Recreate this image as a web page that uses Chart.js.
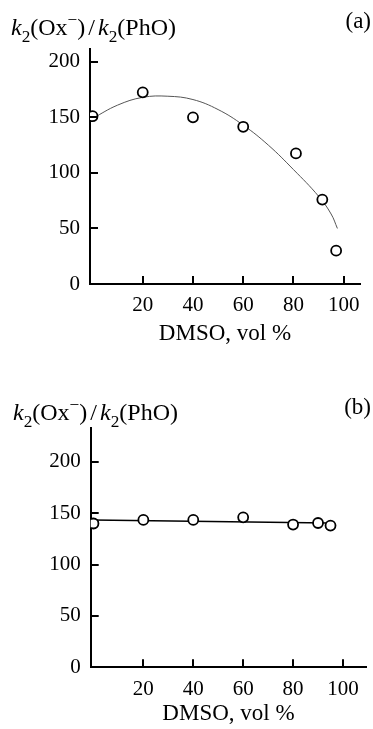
<!DOCTYPE html>
<html>
<head>
<meta charset="utf-8">
<script src="https://cdn.jsdelivr.net/npm/chart.js@4.4.1/dist/chart.umd.min.js"></script>
<style>
    html, body { margin: 0; padding: 0; background: #fff; }
    #wrap { position: relative; width: 373px; height: 729px; }
    canvas { position: absolute; left: 0; }
</style>
</head>
<body>
<div id="wrap">
    <canvas id="chartA" width="373" height="350" style="top:0px"></canvas>
    <canvas id="chartB" width="373" height="369" style="top:360px"></canvas>
</div>
<script>
// Panel (a): measured points and the drawn fit curve
const dmsoA = [0, 20, 40, 60, 81, 91.5, 97];
const ratioA = [151, 172.5, 150, 141.5, 117.5, 76, 30];
const fitDmsoA = [0, 10, 20, 30, 40, 50, 60, 70, 80, 90, 95, 97.5];
const fitRatioA = [149, 161, 168, 169, 166, 157, 143, 125, 103, 79, 63, 50];

// Panel (b)
const dmsoB = [0, 20, 40, 60, 80, 90, 95];
const ratioB = [140, 143.5, 143.5, 146, 139, 140.5, 138];
const fitDmsoB = [0, 94];
const fitRatioB = [143.5, 140.5];

// Axis ticks (both panels)
const xTicks = [20, 40, 60, 80, 100];
const yTicks = [0, 50, 100, 150, 200];

const SERIF = "'Liberation Serif', 'Times New Roman', serif";
Chart.defaults.font.family = SERIF;
Chart.defaults.color = '#000';

const toPoints = (xs, ys) => xs.map((x, i) => ({ x, y: ys[i] }));

// ticks point inwards, so draw them ourselves from the scales
const innerTicks = {
    id: 'innerTicks',
    afterDraw(chart) {
        const { ctx, chartArea: area, scales: { x, y } } = chart;
        ctx.save();
        ctx.strokeStyle = '#000';
        ctx.lineWidth = 2;
        ctx.beginPath();
        xTicks.forEach(v => {
            const px = Math.round(x.getPixelForValue(v));
            ctx.moveTo(px, area.bottom);
            ctx.lineTo(px, area.bottom - 8);
        });
        yTicks.forEach(v => {
            const py = Math.round(y.getPixelForValue(v));
            ctx.moveTo(area.left, py);
            ctx.lineTo(area.left + 8, py);
        });
        ctx.stroke();
        ctx.restore();
    }
};

// y title k2(Ox-)/k2(PhO) with italic k, subscripts and superscript
const headerText = {
    id: 'headerText',
    afterDraw(chart, args, opts) {
        const ctx = chart.ctx;
        const size = opts.size;
        const parts = [
            ['k', 'italic', 0, 1],
            ['2', 'normal', 0.28, 0.72],
            ['(Ox', 'normal', 0, 1],
            ['\u2212', 'normal', -0.42, 0.72],
            [')', 'normal', 0, 1],
            ['/', 'normal', 0, 1, 3],
            ['k', 'italic', 0, 1],
            ['2', 'normal', 0.28, 0.72],
            ['(PhO)', 'normal', 0, 1]
        ];
        ctx.save();
        ctx.fillStyle = '#000';
        ctx.textBaseline = 'alphabetic';
        ctx.textAlign = 'left';
        let x = opts.x;
        parts.forEach(([txt, style, shift, scale, gap = 0]) => {
            ctx.font = `${style} ${size * scale}px ${SERIF}`;
            x += gap;
            ctx.fillText(txt, x, opts.y + shift * size);
            x += ctx.measureText(txt).width + gap;
        });
        ctx.font = `${opts.panelSize}px ${SERIF}`;
        ctx.textAlign = 'right';
        ctx.fillText(opts.panel, 371, opts.panelY);
        ctx.restore();
    }
};

function makeChart(canvasId, cfg) {
    const canvas = document.getElementById(canvasId);
    return new Chart(canvas.getContext('2d'), {
        type: 'scatter',
        data: {
            datasets: [
                {
                    data: cfg.points,
                    showLine: false,
                    pointStyle: 'circle',
                    pointRadius: 5,
                    pointBorderWidth: 1.8,
                    pointBorderColor: '#000',
                    pointBackgroundColor: '#fff'
                },
                {
                    data: cfg.fit,
                    showLine: true,
                    pointRadius: 0,
                    borderColor: cfg.fitColor,
                    borderWidth: cfg.fitWidth,
                    tension: 0.4
                }
            ]
        },
        options: {
            responsive: false,
            animation: false,
            events: [],
            layout: { padding: { top: cfg.top, right: cfg.right, left: 0, bottom: 0 } },
            plugins: {
                legend: { display: false },
                tooltip: { enabled: false },
                headerText: cfg.header
            },
            scales: {
                x: {
                    type: 'linear',
                    min: cfg.xMin,
                    max: cfg.xMax,
                    grid: { display: false, drawTicks: false },
                    border: { display: true, color: '#000', width: 2 },
                    afterBuildTicks: s => { s.ticks = xTicks.map(v => ({ value: v })); },
                    afterFit: s => { s.height = cfg.xHeight; },
                    ticks: { font: { size: 21 }, padding: cfg.xPad, maxRotation: 0 },
                    title: {
                        display: true,
                        text: 'DMSO, vol %',
                        font: { size: 23 },
                        padding: { top: 0, bottom: cfg.titlePad }
                    }
                },
                y: {
                    type: 'linear',
                    min: 0,
                    max: cfg.yMax,
                    grid: { display: false, drawTicks: false },
                    border: { display: true, color: '#000', width: 2 },
                    afterBuildTicks: s => { s.ticks = yTicks.map(v => ({ value: v })); },
                    afterFit: s => { s.width = cfg.yWidth; },
                    ticks: { font: { size: 21 }, padding: 10 }
                }
            }
        },
        plugins: [innerTicks, headerText]
    });
}

makeChart('chartA', {
    points: toPoints(dmsoA, ratioA),
    fit: toPoints(fitDmsoA, fitRatioA),
    fitColor: '#555',
    fitWidth: 1,
    top: 49, right: 13,
    xMin: -1, xMax: 106.5, yMax: 211.5,
    xHeight: 66, yWidth: 90,
    xPad: 8.5, titlePad: 2.3,
    header: { x: 11, y: 35, size: 24, panel: '(a)', panelSize: 23, panelY: 28 }
});

makeChart('chartB', {
    points: toPoints(dmsoB, ratioB),
    fit: toPoints(fitDmsoB, fitRatioB),
    fitColor: '#000',
    fitWidth: 1.5,
    top: 68, right: 3,
    xMin: -1.1, xMax: 109.3, yMax: 233,
    xHeight: 61.7, yWidth: 90.7,
    xPad: 9.5, titlePad: 1.3,
    header: { x: 13, y: 420 - 360, size: 24, panel: '(b)', panelSize: 23, panelY: 54 }
});
</script>
</body>
</html>
